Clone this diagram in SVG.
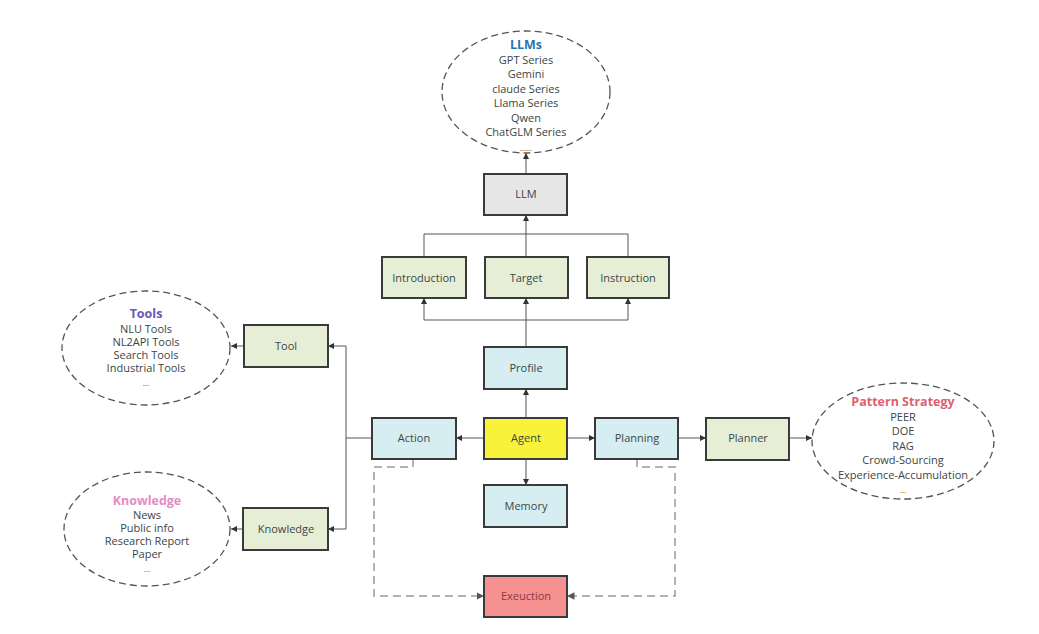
<svg xmlns="http://www.w3.org/2000/svg" width="1039" height="634" viewBox="0 0 1039 634">
<style>
text{font-family:"Open Sans","Noto Sans",sans-serif;font-size:11px;fill:#3a4646;text-anchor:middle}
.box{stroke:#3a3a3a;stroke-width:2}
.g{fill:#e6efd6}.b{fill:#d6eef2}.grey{fill:#e6e6e6}
.ell{fill:#fff;stroke:#555;stroke-width:1.3;stroke-dasharray:7 4}
.c{fill:none;stroke:#555;stroke-width:1}
.d{fill:none;stroke:#999;stroke-width:1.5;stroke-dasharray:8 5}
.t{font-size:12.5px;font-weight:bold}
</style>
<defs>
<marker id="a" viewBox="0 0 8 8" refX="8" refY="4" markerWidth="6" markerHeight="6" orient="auto"><path d="M0,0L8,4L0,8z" fill="#333"/></marker>
<marker id="ad" viewBox="0 0 8 8" refX="8" refY="4" markerWidth="5" markerHeight="5" orient="auto"><path d="M0,0L8,4L0,8z" fill="#555"/></marker>
</defs>
<rect width="1039" height="634" fill="#fff"/>
<g id="connectors">
<path class="c" d="M526,174V153" marker-end="url(#a)"/>
<path class="c" d="M424,257V234H628V257M526,257V215" marker-end="url(#a)"/>
<path class="c" d="M526,347V298" marker-end="url(#a)"/>
<path class="c" d="M424,320H628"/>
<path class="c" d="M424,320V298" marker-end="url(#a)"/>
<path class="c" d="M628,320V298" marker-end="url(#a)"/>
<path class="c" d="M526,418V389" marker-end="url(#a)"/>
<path class="c" d="M526,459V485" marker-end="url(#a)"/>
<path class="c" d="M484,438H456" marker-end="url(#a)"/>
<path class="c" d="M567,438H595" marker-end="url(#a)"/>
<path class="c" d="M678,438H706" marker-end="url(#a)"/>
<path class="c" d="M789,438H812" marker-end="url(#a)"/>
<path class="c" d="M372,438H346V346H328" marker-end="url(#a)"/>
<path class="c" d="M346,438V529H328" marker-end="url(#a)"/>
<path class="c" d="M244,346H231" marker-end="url(#a)"/>
<path class="c" d="M243,529H231" marker-end="url(#a)"/>
<path class="d" d="M413,459V467H374V596H484" marker-end="url(#ad)"/>
<path class="d" d="M637,459V467H675V596H567" marker-end="url(#ad)"/>
</g>
<g id="llms">
<ellipse class="ell" cx="526" cy="92" rx="84" ry="61"/>
<text x="526" y="49" class="t" style="fill:#2a74b0">LLMs</text>
<text x="526" y="64">GPT Series</text>
<text x="526" y="78">Gemini</text>
<text x="526" y="93">claude Series</text>
<text x="526" y="107">Llama Series</text>
<text x="526" y="122">Qwen</text>
<text x="526" y="136">ChatGLM Series</text>
<text x="526" y="151" style="font-size:8px">......</text>
</g>
<g id="llm"><rect class="box grey" x="484" y="174" width="83" height="41"/><text x="526" y="198">LLM</text></g>
<g id="introduction"><rect class="box g" x="382" y="257" width="84" height="41"/><text x="424" y="282">Introduction</text></g>
<g id="target"><rect class="box g" x="485" y="257" width="83" height="41"/><text x="526" y="282">Target</text></g>
<g id="instruction"><rect class="box g" x="587" y="257" width="82" height="41"/><text x="628" y="282">Instruction</text></g>
<g id="profile"><rect class="box b" x="484" y="347" width="83" height="42"/><text x="526" y="372">Profile</text></g>
<g id="agent"><rect class="box" style="fill:#f8f23a" x="484" y="418" width="83" height="41"/><text x="526" y="442">Agent</text></g>
<g id="action"><rect class="box b" x="372" y="418" width="84" height="41"/><text x="414" y="442">Action</text></g>
<g id="planning"><rect class="box b" x="595" y="418" width="83" height="41"/><text x="637" y="442">Planning</text></g>
<g id="memory"><rect class="box b" x="484" y="485" width="83" height="42"/><text x="526" y="510">Memory</text></g>
<g id="planner"><rect class="box g" x="706" y="418" width="83" height="42"/><text x="748" y="442">Planner</text></g>
<g id="execution"><rect class="box" style="fill:#f59190" x="484" y="576" width="83" height="41"/><text x="526" y="600" style="fill:#8a3a3a">Exeuction</text></g>
<g id="tool"><rect class="box g" x="244" y="325" width="84" height="42"/><text x="286" y="350">Tool</text></g>
<g id="knowledge"><rect class="box g" x="243" y="508" width="85" height="42"/><text x="286" y="533">Knowledge</text></g>
<g id="tools">
<ellipse class="ell" cx="146" cy="348" rx="84" ry="57"/>
<text x="146" y="318" class="t" style="fill:#6a55b8">Tools</text>
<text x="146" y="333">NLU Tools</text>
<text x="146" y="346">NL2API Tools</text>
<text x="146" y="359">Search Tools</text>
<text x="146" y="372">Industrial Tools</text>
<text x="146" y="386" style="font-size:8px">...</text>
</g>
<g id="knowledge-list">
<ellipse class="ell" cx="147" cy="529" rx="83" ry="57"/>
<text x="147" y="505" class="t" style="fill:#e48cc6">Knowledge</text>
<text x="147" y="519">News</text>
<text x="147" y="532">Public info</text>
<text x="147" y="545">Research Report</text>
<text x="147" y="558">Paper</text>
<text x="147" y="572" style="font-size:8px">...</text>
</g>
<g id="pattern">
<ellipse class="ell" cx="903" cy="441" rx="91" ry="58"/>
<text x="903" y="406" class="t" style="fill:#e0606e">Pattern Strategy</text>
<text x="903" y="421">PEER</text>
<text x="903" y="435">DOE</text>
<text x="903" y="450">RAG</text>
<text x="903" y="464">Crowd-Sourcing</text>
<text x="903" y="479">Experience-Accumulation</text>
<text x="903" y="493" style="font-size:8px">...</text>
</g>
</svg>
